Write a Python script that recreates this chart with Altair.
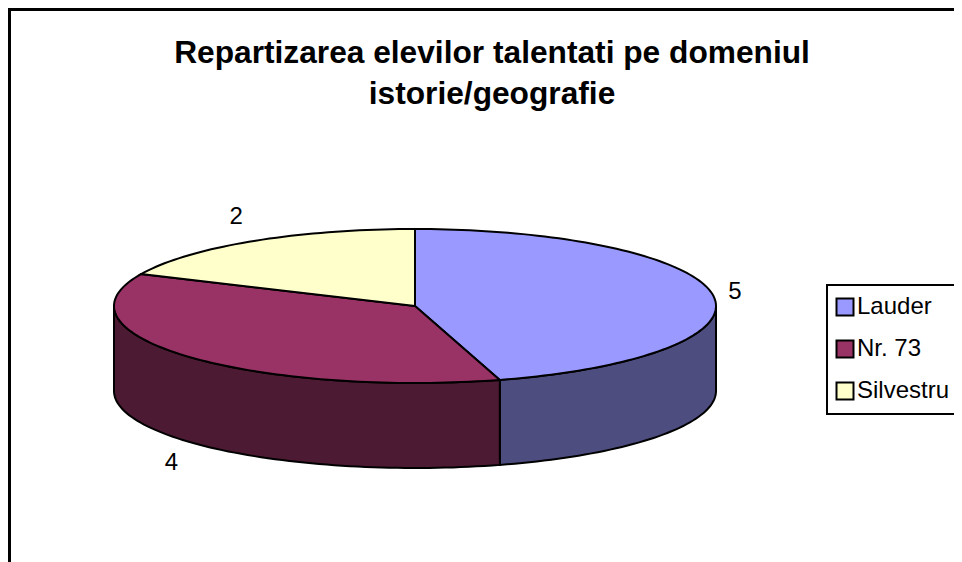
import math
import altair as alt

title_lines = ["Repartizarea elevilor talentati pe domeniul", "istorie/geografie"]
categories = ["Lauder", "Nr. 73", "Silvestru"]
values = [5, 4, 2]
top_colors = ["#9999FF", "#993366", "#FFFFCC"]
side_colors = ["#4D4D80", "#4D1A33", "#80806A"]

# projection of the tilted pie, in page pixels
CX, CY, RX, RY, DEPTH = 415, 306, 301, 77, 85
FONT = "Liberation Sans"
# label displacement from the rim point at the middle of each slice
label_offsets = [(22, -3), (-16, 107), (-16, -24)]


def rim(theta, drop=0):
    return CX + RX * math.sin(theta), CY - RY * math.cos(theta) + drop


W, H = 946, 554
X = alt.X("x:Q", scale=alt.Scale(domain=[8, 8 + W]), axis=None)
Y = alt.Y("y:Q", scale=alt.Scale(domain=[8 + H, 8]), axis=None)

total = sum(values)
top_rows, label_rows, side_layers = [], [], []
start = 0.0
for name, value, side, off in zip(categories, values, side_colors, label_offsets):
    end = start + value / total * 2 * math.pi
    n = max(2, int((end - start) / math.radians(1.5)))
    arc = [start + (end - start) * k / n for k in range(n + 1)]
    pts = [(CX, CY)] + [rim(t) for t in arc]
    top_rows += [{"cat": name, "i": i, "x": p[0], "y": p[1]} for i, p in enumerate(pts)]

    lo, hi = max(start, math.pi / 2), min(end, 3 * math.pi / 2)
    if hi > lo:
        m = max(2, int((hi - lo) / math.radians(1.5)))
        front = [lo + (hi - lo) * k / m for k in range(m + 1)]
        outline = [rim(t) for t in front] + [rim(t, DEPTH) for t in reversed(front)]
        rows = [{"i": i, "x": p[0], "y": p[1]} for i, p in enumerate(outline)]
        side_layers.append(
            alt.Chart(alt.Data(values=rows))
            .mark_line(interpolate="linear-closed", stroke="black", strokeWidth=2, fill=side)
            .encode(x=X, y=Y, order=alt.Order("i:Q"))
        )

    mid = (start + end) / 2
    px, py = rim(mid)
    label_rows.append({"v": str(value), "x": px + off[0], "y": py + off[1]})
    start = end

fill_scale = alt.Scale(domain=categories, range=top_colors)
tops = (
    alt.Chart(alt.Data(values=top_rows))
    .mark_line(interpolate="linear-closed", stroke="black", strokeWidth=2)
    .encode(
        x=X, y=Y, order=alt.Order("i:Q"),
        fill=alt.Fill(
            "cat:N", scale=fill_scale,
            legend=alt.Legend(
                title=None, orient="none", legendX=819, legendY=277,
                symbolType="square", symbolSize=289, symbolStrokeColor="black",
                symbolStrokeWidth=2, symbolOpacity=1, symbolOffset=-4,
                labelFont=FONT, labelFontSize=24, labelColor="black", labelOffset=0,
                rowPadding=16, padding=10, strokeColor="black", fillColor="white",
                labelLimit=200,
            ),
        ),
    )
)
labels = (
    alt.Chart(alt.Data(values=label_rows))
    .mark_text(font=FONT, fontSize=24, color="black")
    .encode(x=X, y=Y, text="v:N")
)
frame_left = alt.Chart(alt.Data(values=[{"a": 0}])).mark_rule(color="black", strokeWidth=3).encode(
    x=alt.value(1.5), y=alt.value(0), y2=alt.value(H))
frame_top = alt.Chart(alt.Data(values=[{"a": 0}])).mark_rule(color="black", strokeWidth=3).encode(
    y=alt.value(1.5), x=alt.value(0), x2=alt.value(W))

chart = (
    alt.layer(frame_left, frame_top, *side_layers, tops, labels)
    .properties(
        width=W, height=H, padding=0,
        autosize=alt.AutoSizeParams(type="none"),
        title=alt.TitleParams(
            text=title_lines, font=FONT, fontSize=31.7, fontWeight="bold", color="black",
            lineHeight=41, anchor="middle", frame="group", dx=11, dy=108, align="center",
        ),
    )
    .configure_view(stroke=None)
    .configure_legend(strokeWidth=2)
)
chart.save("out.html", embed_options={"renderer": "svg", "actions": False})
